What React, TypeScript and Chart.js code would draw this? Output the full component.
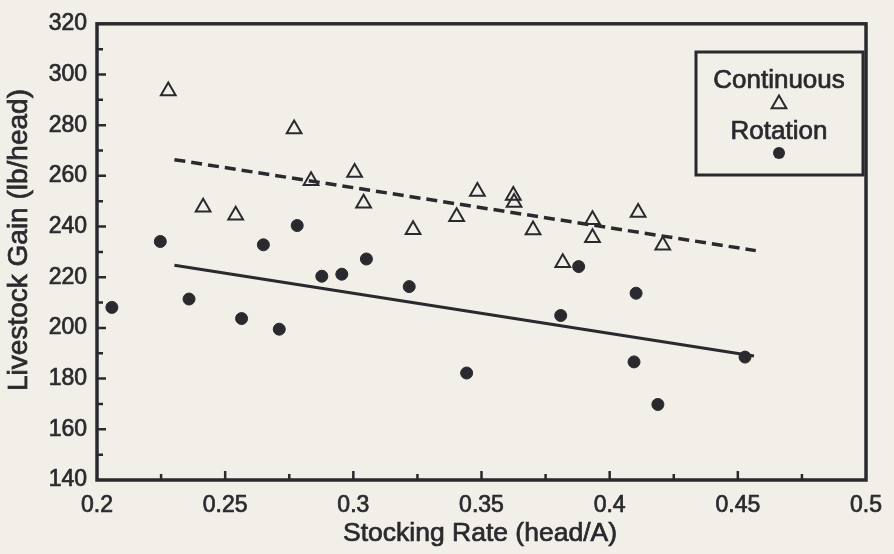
import React, { useEffect, useRef } from 'react';
import { Chart, registerables } from 'chart.js';

Chart.register(...registerables);

// Axis tick labels
const xTickLabels = [0.2, 0.25, 0.3, 0.35, 0.4, 0.45, 0.5];
const yTickLabels = [140, 160, 180, 200, 220, 240, 260, 280, 300, 320];

// Titles and series names
const xTitle = 'Stocking Rate (head/A)';
const yTitle = 'Livestock Gain (lb/head)';
const seriesNames = ['Continuous', 'Rotation'];

// Continuous grazing (triangles)
const continuousX = [0.2278, 0.2414, 0.2541, 0.2769, 0.2835, 0.3005, 0.304, 0.3233, 0.3403, 0.3484, 0.3624, 0.3627, 0.3701, 0.3817, 0.3933, 0.3933, 0.4111, 0.4207];
const continuousY = [293.5, 247.6, 244.5, 278.5, 258.1, 261.3, 249.2, 238.7, 243.9, 253.8, 252.3, 249.5, 238.6, 225.7, 242.7, 235.6, 245.5, 232.6];

// Rotation grazing (dots)
const rotationX = [0.2058, 0.2247, 0.2359, 0.2564, 0.2649, 0.2711, 0.2781, 0.2877, 0.2955, 0.3051, 0.3218, 0.3442, 0.3809, 0.3879, 0.4103, 0.4095, 0.4188, 0.4528];
const rotationY = [208.1, 234.1, 211.4, 203.7, 232.8, 199.5, 240.4, 220.4, 221.2, 227.2, 216.3, 182.2, 204.9, 224.2, 213.7, 186.6, 169.8, 188.5];

// Fitted regression lines (end points)
const continuousFitX = [0.2302, 0.457];
const continuousFitY = [266.4, 230.5];
const rotationFitX = [0.2302, 0.4563];
const rotationFitY = [224.7, 188.9];

const INK = '#2a2a2e';
const PAPER = '#f2eee8';
const FONT = '"Liberation Sans", Arial, Helvetica, sans-serif';

const toPoints = (xs: number[], ys: number[]) => xs.map((x, i) => ({ x, y: ys[i] }));

const fmt = (v: number) => String(Number(v.toFixed(2)));

const boldText = (ctx: CanvasRenderingContext2D, s: string, x: number, y: number) => {
  ctx.fillText(s, x, y);
  ctx.strokeText(s, x, y);
};

const framePlugin = {
  id: 'framePlugin',
  beforeDraw(chart: any) {
    const { ctx, width, height } = chart;
    ctx.save();
    ctx.fillStyle = PAPER;
    ctx.fillRect(0, 0, width, height);
    ctx.restore();
  },
  afterDraw(chart: any) {
    const { ctx, chartArea } = chart;
    const { left, right, top, bottom } = chartArea;
    const xs = chart.scales.x;
    const ys = chart.scales.y;
    ctx.save();
    ctx.strokeStyle = INK;
    ctx.lineWidth = 3.5;
    ctx.strokeRect(left, top, right - left, bottom - top);

    // inward tick marks
    ctx.lineWidth = 2.5;
    ctx.beginPath();
    for (let i = 0; i < xTickLabels.length; i++) {
      const v = xTickLabels[i];
      if (i > 0 && i < xTickLabels.length - 1) {
        const p = xs.getPixelForValue(v);
        ctx.moveTo(p, bottom);
        ctx.lineTo(p, bottom - 9);
      }
      if (i < xTickLabels.length - 1) {
        const m = xs.getPixelForValue((v + xTickLabels[i + 1]) / 2);
        ctx.moveTo(m, bottom);
        ctx.lineTo(m, bottom - 6);
      }
    }
    for (let i = 0; i < yTickLabels.length; i++) {
      const v = yTickLabels[i];
      if (i > 0 && i < yTickLabels.length - 1) {
        const p = ys.getPixelForValue(v);
        ctx.moveTo(left, p);
        ctx.lineTo(left + 9, p);
      }
      if (i < yTickLabels.length - 1) {
        const m = ys.getPixelForValue((v + yTickLabels[i + 1]) / 2);
        ctx.moveTo(left, m);
        ctx.lineTo(left + 6, m);
      }
    }
    ctx.stroke();

    // axis titles
    ctx.fillStyle = INK;
    ctx.strokeStyle = INK;
    ctx.lineWidth = 0.7;
    ctx.textAlign = 'center';
    ctx.textBaseline = 'alphabetic';
    ctx.font = `26.5px ${FONT}`;
    boldText(ctx, xTitle, 480, 541);
    ctx.save();
    ctx.translate(27, 240);
    ctx.rotate(-Math.PI / 2);
    ctx.font = `28px ${FONT}`;
    boldText(ctx, yTitle, 0, 0);
    ctx.restore();

    // legend box
    const lx = 696, ly = 52, lw = 167, lh = 123;
    ctx.lineWidth = 3;
    ctx.strokeRect(lx, ly, lw, lh);
    const cx = 779;
    ctx.font = `26px ${FONT}`;
    ctx.lineWidth = 0.7;
    boldText(ctx, seriesNames[0], cx, 88);
    boldText(ctx, seriesNames[1], cx, 139);
    // triangle
    const r = 8.5;
    const ty = 104;
    ctx.lineWidth = 2;
    ctx.beginPath();
    for (let k = 0; k < 3; k++) {
      const a = (k * 2 * Math.PI) / 3;
      const px = cx + Math.sin(a) * r;
      const py = ty - Math.cos(a) * r;
      if (k === 0) ctx.moveTo(px, py); else ctx.lineTo(px, py);
    }
    ctx.closePath();
    ctx.stroke();
    // dot
    ctx.beginPath();
    ctx.arc(cx, 153, 6, 0, Math.PI * 2);
    ctx.fill();
    ctx.restore();
  },
};

export default function App() {
  const canvasRef = useRef<HTMLCanvasElement | null>(null);

  useEffect(() => {
    document.body.style.margin = '0';
    document.body.style.background = PAPER;
    const canvas = canvasRef.current;
    if (!canvas) return;
    const chart = new Chart(canvas, {
      type: 'scatter',
      data: {
        datasets: [
          {
            type: 'line',
            label: seriesNames[0] + ' fit',
            data: toPoints(continuousFitX, continuousFitY),
            borderColor: INK,
            borderWidth: 3.5,
            borderDash: [11, 6],
            pointRadius: 0,
            fill: false,
          } as any,
          {
            type: 'line',
            label: seriesNames[1] + ' fit',
            data: toPoints(rotationFitX, rotationFitY),
            borderColor: INK,
            borderWidth: 3,
            pointRadius: 0,
            fill: false,
          } as any,
          {
            label: seriesNames[0],
            data: toPoints(continuousX, continuousY),
            pointStyle: 'triangle',
            pointRadius: 8.5,
            borderColor: INK,
            borderWidth: 2,
            backgroundColor: 'rgba(0,0,0,0)',
          },
          {
            label: seriesNames[1],
            data: toPoints(rotationX, rotationY),
            pointStyle: 'circle',
            pointRadius: 6,
            borderColor: INK,
            borderWidth: 1,
            backgroundColor: INK,
          },
        ],
      },
      options: {
        responsive: false,
        animation: false,
        devicePixelRatio: 1,
        layout: { padding: { left: 0, top: 21, right: 21, bottom: 0 } },
        plugins: {
          legend: { display: false },
          tooltip: { enabled: false },
        },
        scales: {
          x: {
            type: 'linear',
            min: 0.2,
            max: 0.5,
            afterBuildTicks: (scale: any) => {
              scale.ticks = xTickLabels.map((v) => ({ value: v }));
            },
            afterFit: (scale: any) => {
              scale.height = 74;
            },
            grid: { display: false, drawTicks: false },
            border: { display: false },
            ticks: {
              color: INK,
              font: { size: 23, family: FONT },
              textStrokeColor: INK,
              textStrokeWidth: 0.7,
              padding: 12,
              maxRotation: 0,
              autoSkip: false,
              callback: (v: any) => fmt(Number(v)),
            },
          },
          y: {
            type: 'linear',
            min: 140,
            max: 320,
            afterBuildTicks: (scale: any) => {
              scale.ticks = yTickLabels.map((v) => ({ value: v }));
            },
            afterFit: (scale: any) => {
              scale.width = 97;
            },
            grid: { display: false, drawTicks: false },
            border: { display: false },
            ticks: {
              color: INK,
              font: { size: 23, family: FONT },
              textStrokeColor: INK,
              textStrokeWidth: 0.7,
              padding: 10,
              autoSkip: false,
              callback: (v: any) => String(v),
            },
          },
        },
      },
      plugins: [framePlugin],
    });
    return () => chart.destroy();
  }, []);

  return (
    <div style={{ width: 894, height: 554, background: PAPER }}>
      <canvas ref={canvasRef} width={894} height={554} style={{ display: 'block' }} />
    </div>
  );
}
